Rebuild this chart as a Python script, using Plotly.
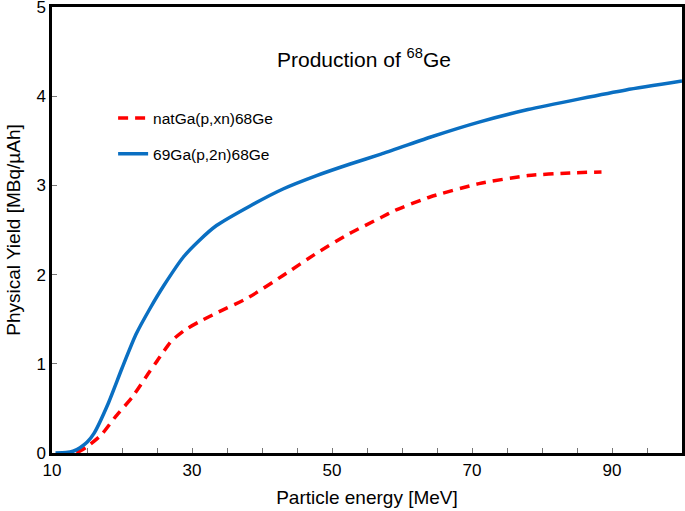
import plotly.graph_objects as go

# natGa(p,xn)68Ge
red_x = [13.5, 15, 17, 19, 21.5, 24, 25, 27, 29, 31, 33.5, 38, 43, 48, 52.5, 57, 59, 64, 71, 78, 84, 88.5]
red_y = [0.0, 0.07, 0.2, 0.4, 0.63, 0.92, 1.03, 1.25, 1.38, 1.47, 1.57, 1.74, 1.99, 2.25, 2.46, 2.64, 2.72, 2.87, 3.02, 3.11, 3.14, 3.15]

# 69Ga(p,2n)68Ge
blue_x = [10.5, 12, 13, 14, 15, 16, 18, 20, 22, 24, 26, 28.8, 31, 33.5, 38.3, 43, 47.8, 52.6, 57, 64, 71, 78, 85.4, 92, 100]
blue_y = [0.0, 0.005, 0.02, 0.06, 0.12, 0.22, 0.55, 0.95, 1.33, 1.62, 1.88, 2.2, 2.38, 2.55, 2.77, 2.96, 3.11, 3.24, 3.35, 3.54, 3.71, 3.85, 3.97, 4.07, 4.17]

x_ticks = [10, 30, 50, 70, 90]
y_ticks = [0, 1, 2, 3, 4, 5]

FONT = "Liberation Sans, Arial, sans-serif"

fig = go.Figure()
fig.add_trace(go.Scatter(
    x=red_x, y=red_y, mode="lines", name="natGa(p,xn)68Ge",
    line=dict(color="#FF0000", width=3.5, dash="10px,7px", shape="spline", smoothing=0.6),
    legend="legend", showlegend=True,
))
fig.add_trace(go.Scatter(
    x=blue_x, y=blue_y, mode="lines", name="69Ga(p,2n)68Ge",
    line=dict(color="#0A6FC2", width=3.5, shape="spline", smoothing=0.6),
    legend="legend2", showlegend=True,
))

fig.update_layout(
    width=685, height=511,
    margin=dict(l=52, r=3, t=7, b=58),
    plot_bgcolor="white", paper_bgcolor="white",
    font=dict(family=FONT, color="black"),
    showlegend=True,
    legend=dict(x=0.097, y=0.75, xanchor="left", yanchor="middle",
                bgcolor="rgba(0,0,0,0)", font=dict(size=15.5, family=FONT)),
    legend2=dict(x=0.097, y=0.67, xanchor="left", yanchor="middle",
                 bgcolor="rgba(0,0,0,0)", font=dict(size=15.5, family=FONT)),
    annotations=[dict(
        text="Production of <sup>68</sup>Ge", x=0.495, y=0.885, xref="paper", yref="paper",
        showarrow=False, font=dict(size=21, family=FONT, color="black"),
        xanchor="center", yanchor="middle",
    )],
)

fig.update_xaxes(
    range=[10, 100], tickvals=x_ticks, ticktext=[str(v) for v in x_ticks],
    ticks="inside", ticklen=5, tickcolor="#777", tickwidth=1,
    minor=dict(dtick=5, tick0=10, ticks="inside", ticklen=5, tickcolor="#777", tickwidth=1),
    showline=True, linecolor="black", linewidth=2.5, mirror=True,
    showgrid=False, zeroline=False, automargin=False,
    tickfont=dict(size=17, family=FONT), ticklabeloverflow="allow",
    title=dict(text="Particle energy [MeV]", font=dict(size=19, family=FONT), standoff=12),
)
fig.update_yaxes(
    range=[0, 5], tickvals=y_ticks, ticktext=[str(v) for v in y_ticks],
    ticks="inside", ticklen=5, tickcolor="#777", tickwidth=1,
    showline=True, linecolor="black", linewidth=2.5, mirror=True,
    showgrid=False, zeroline=False, automargin=False,
    tickfont=dict(size=17, family=FONT), ticklabeloverflow="allow",
    title=dict(text="Physical Yield [MBq/µAh]", font=dict(size=19, family=FONT), standoff=11),
)

fig.write_html("out.html", config={"displayModeBar": False},
               post_script="document.body.style.margin='0';")
